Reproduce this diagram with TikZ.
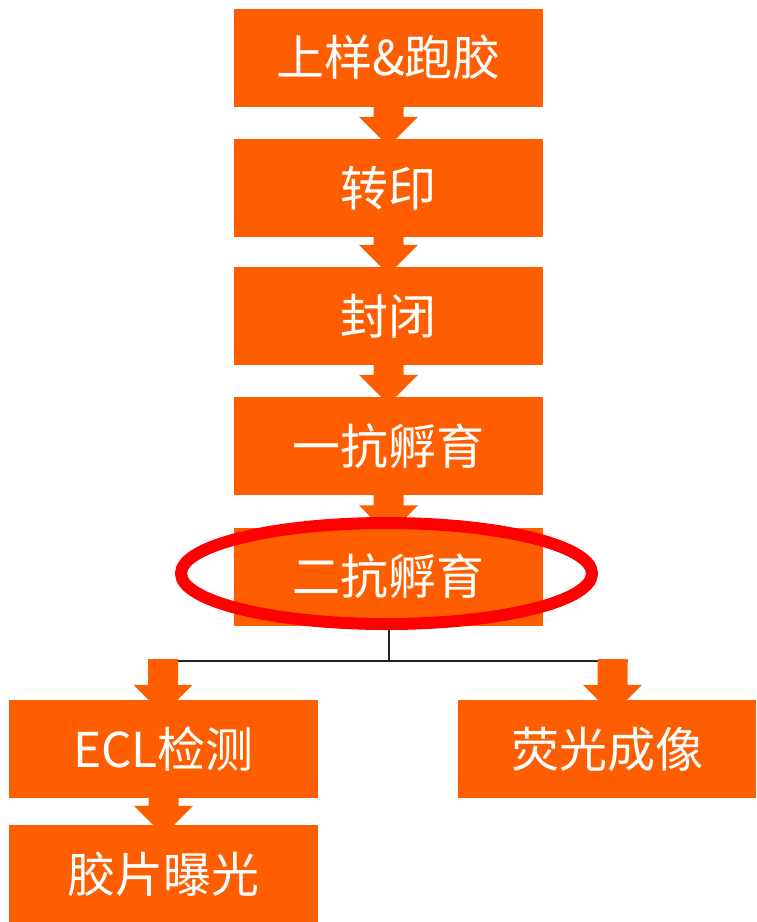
\documentclass[tikz,border=0pt]{standalone}
\usepackage{fontspec}
\newfontfamily\cjk{Noto Sans CJK SC}
\usetikzlibrary{calc,backgrounds}
\definecolor{boxor}{HTML}{FF5E00}
\definecolor{hlred}{HTML}{FF0000}
\definecolor{linegray}{HTML}{222222}
\tikzset{
  stepbox/.style={fill=boxor, draw=none, inner sep=0pt, text=white,
    minimum width=309pt, minimum height=98pt, font=\cjk\fontsize{48pt}{54pt}\selectfont},
  arrowfill/.style={fill=boxor},
  joinline/.style={draw=linegray, line width=2pt},
  ring/.style={draw=hlred, line width=12pt}
}
\newcommand\blockarr[3]{%
  \fill[arrowfill] ($(#1)+(-15,0)$) -- ($(#1|-#2)+(-15,-#3)$) -- ($(#1|-#2)+(-29.5,-#3)$)
   -- ($(#1|-#2)+(0,29.5-#3)$) -- ($(#1|-#2)+(29.5,-#3)$) -- ($(#1|-#2)+(15,-#3)$)
   -- ($(#1)+(15,0)$) -- cycle;}
\begin{document}
\begin{tikzpicture}[x=1pt,y=-1pt]
\useasboundingbox (0,0) rectangle (756,922);
\node[stepbox] (b1) at (388.5,57.5) {上样\&跑胶};
\node[stepbox] (b2) at (388.5,188) {转印};
\node[stepbox] (b3) at (388.5,316) {封闭};
\node[stepbox] (b4) at (388.5,446) {一抗孵育};
\node[stepbox] (b5) at (388.5,576.5) {二抗孵育};
\node[stepbox] (b6) at (163.5,749) {ECL检测};
\node[stepbox] (b7) at (163.5,874) {胶片曝光};
\node[stepbox, minimum width=298pt] (b8) at (607,749) {荧光成像};
\coordinate (hub) at (388.5,661);
\coordinate (jl) at (163,661);
\coordinate (jr) at (612.5,661);
\coordinate (jlt) at (163,659);
\coordinate (jrt) at (612.5,659);
\coordinate (jrend) at (628,661);
\begin{scope}[on background layer]
  \draw[joinline] (b5.south) -- (hub);
  \draw[joinline] (jl) -- (jrend);
  \blockarr{b1.south}{b2.north}{22}
  \blockarr{b2.south}{b3.north}{22}
  \blockarr{b3.south}{b4.north}{22}
  \blockarr{b4.south}{b5.north}{22}
  \blockarr{jlt}{b6.north}{15}
  \blockarr{jrt}{b8.north}{15}
  \blockarr{b6.south}{b7.north}{19}
\end{scope}
\draw[ring] (386.5,573.5) ellipse [x radius=205.5pt, y radius=50.5pt];
\end{tikzpicture}
\end{document}
